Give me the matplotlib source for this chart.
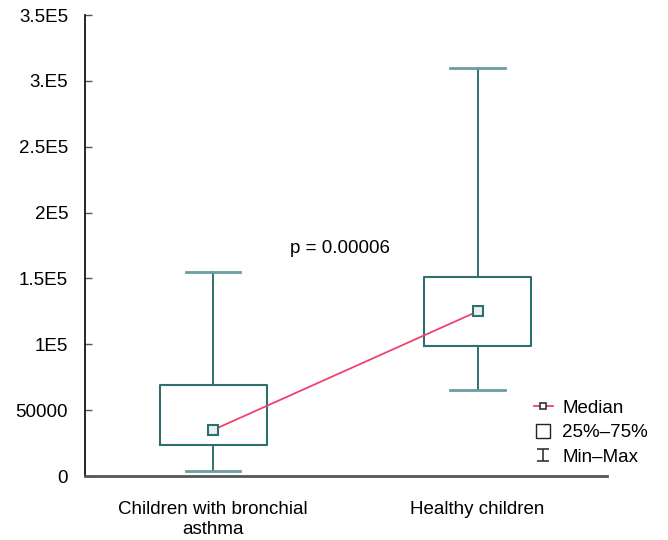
import matplotlib.pyplot as plt
from matplotlib.lines import Line2D
from matplotlib.path import Path

plt.rcParams['font.family'] = ['Liberation Sans', 'DejaVu Sans']

# data
groups = ['Children with bronchial\nasthma', 'Healthy children']
mins = [3800, 65000]
q1 = [23500, 98500]
medians = [35000, 125000]
q3 = [69000, 151500]
maxs = [155000, 310000]
yticks = [0, 50000, 100000, 150000, 200000, 250000, 300000, 350000]
ytick_labels = ['0', '50000', '1E5', '1.5E5', '2E5', '2.5E5', '3.E5', '3.5E5']

teal = '#2f6f72'
pink = '#f0426e'

fig = plt.figure(figsize=(6.68, 5.4), dpi=100)
ax = fig.add_axes([0.127, 0.1185, 0.782, 0.8535])

stats = []
for i in range(len(groups)):
    stats.append({'whislo': mins[i], 'q1': q1[i], 'med': medians[i],
                  'q3': q3[i], 'whishi': maxs[i]})
pos = list(range(len(groups)))
ax.bxp(stats, positions=pos, widths=0.405, capwidths=0.205, showfliers=False,
       boxprops=dict(color=teal, linewidth=1.5),
       whiskerprops=dict(color=teal, linewidth=1.4),
       capprops=dict(color='#6a9ea0', linewidth=2),
       medianprops=dict(linewidth=0))

ax.plot(pos, medians, color=pink, linewidth=1.3, zorder=3)
ax.plot(pos, medians, linestyle='none', marker='s', markersize=6.5,
        markerfacecolor='#e8f0f0', markeredgecolor=teal, markeredgewidth=1.5, zorder=4)

ax.text(0.48, 173000, 'p = 0.00006', fontsize=13.5, ha='center', va='center')

ax.set_xlim(-0.485, 1.49)
ax.set_ylim(0, 350000)
ax.set_yticks(yticks)
ax.set_yticklabels(ytick_labels)
ax.set_xticks(pos)
ax.set_xticklabels(groups)
ax.tick_params(axis='y', direction='in', length=5, width=1, labelsize=13.5, pad=12, color='#555555')
ax.tick_params(axis='x', length=0, labelsize=13.5, pad=18)
ax.spines['top'].set_visible(False)
ax.spines['right'].set_visible(False)
ax.spines['left'].set_color('black')
ax.spines['left'].set_linewidth(1.2)
ax.spines['bottom'].set_color('#555555')
ax.spines['bottom'].set_linewidth(2)

ibeam = Path([(-1, 1), (1, 1), (0, 1), (0, -1), (-1, -1), (1, -1)],
             [Path.MOVETO, Path.LINETO, Path.MOVETO, Path.LINETO, Path.MOVETO, Path.LINETO])
handles = [
    Line2D([], [], color=pink, linewidth=1.3, marker='s', markersize=5,
           markerfacecolor='white', markeredgecolor='#333333', markeredgewidth=1.2),
    Line2D([], [], linestyle='none', marker='s', markersize=10,
           markerfacecolor='white', markeredgecolor='#222222', markeredgewidth=1.0),
    Line2D([], [], linestyle='none', marker=ibeam, markersize=9,
           markeredgecolor='#333333', markeredgewidth=1.2),
]
ax.legend(handles, ['Median', '25%\u201375%', 'Min\u2013Max'], loc='lower right',
          bbox_to_anchor=(1.11, -0.015), frameon=False, fontsize=13.5,
          handlelength=1.0, handletextpad=0.5, labelspacing=0.4)

plt.savefig('out.png', dpi=100)
